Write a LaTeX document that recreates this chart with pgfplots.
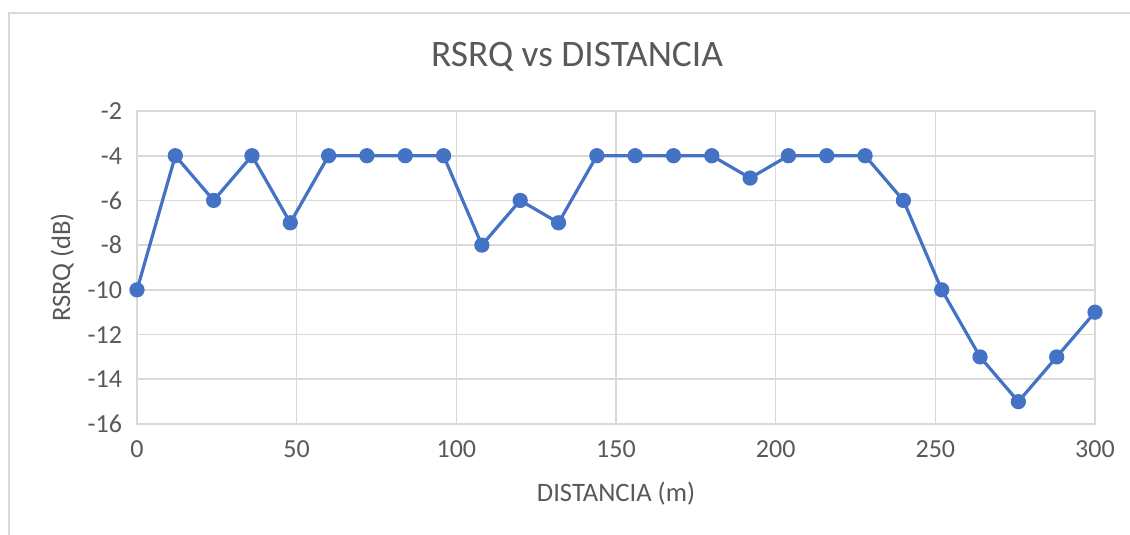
\documentclass[border=0pt]{standalone}
\usepackage{pgfplots}
\pgfplotsset{compat=1.18}
\usepackage{fontspec}
\setmainfont{Carlito}
\definecolor{txt}{HTML}{595959}
\definecolor{grd}{HTML}{D9D9D9}
\definecolor{ser}{HTML}{4472C4}
\begin{document}
\begin{tikzpicture}
\path[use as bounding box] (0pt,0pt) rectangle (565pt,267.5pt);
\fill[white] (0pt,0pt) rectangle (565pt,267.5pt);
\draw[grd, line width=0.8pt] (4.5pt,-5pt) -- (4.5pt,261pt) -- (570pt,261pt);
\node[txt, font=\fontsize{18.7}{22}\selectfont] at (288.5pt,239pt) {RSRQ vs DISTANCIA};
\begin{axis}[
  at={(68.5pt,55.5pt)}, anchor=south west,
  scale only axis, width=479pt, height=156.5pt,
  xmin=0, xmax=300, ymin=-16, ymax=-2,
  xtick={0,50,...,300}, ytick={-16,-14,...,-2},
  grid=major, major grid style={grd, line width=0.8pt},
  axis line style={grd, line width=0.8pt},
  tick style={draw=none},
  ticklabel style={txt, font=\fontsize{13}{15}\selectfont},
  /pgf/number format/assume math mode=true,
  xticklabel style={yshift=-5pt},
  yticklabel style={xshift=-4pt},
  xlabel={DISTANCIA (m)}, ylabel={RSRQ (dB)},
  label style={txt, font=\fontsize{13.3}{15}\selectfont},
  xlabel style={yshift=-5pt},
  ylabel style={yshift=0pt},
  clip=false,
]
\addplot[ser, line width=1.6pt, mark=*, mark size=3pt, mark options={fill=ser, draw=ser}] coordinates {
(0,-10) (12,-4) (24,-6) (36,-4) (48,-7) (60,-4) (72,-4) (84,-4) (96,-4)
(108,-8) (120,-6) (132,-7) (144,-4) (156,-4) (168,-4) (180,-4) (192,-5)
(204,-4) (216,-4) (228,-4) (240,-6) (252,-10) (264,-13) (276,-15) (288,-13) (300,-11)
};
\end{axis}
\end{tikzpicture}
\end{document}
